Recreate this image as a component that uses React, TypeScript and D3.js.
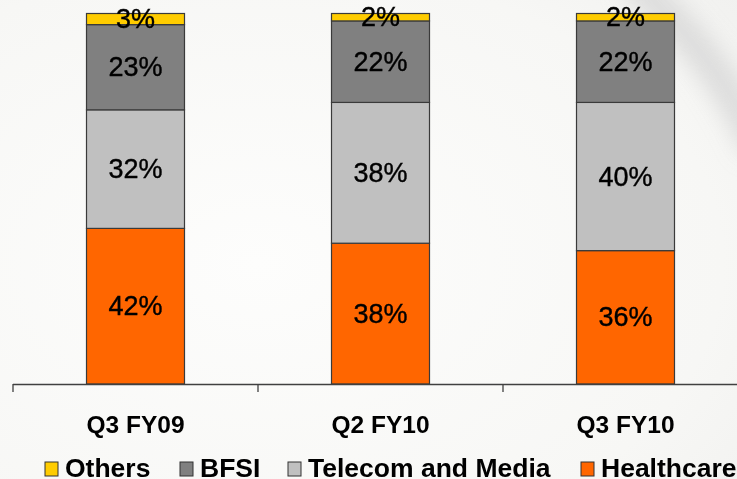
import React from "react";
import * as d3 from "d3";

const categories = ["Q3 FY09", "Q2 FY10", "Q3 FY10"];
const seriesNames = ["Healthcare", "Telecom and Media", "BFSI", "Others"];
const healthcare = [42, 38, 36];
const telecom = [32, 38, 40];
const bfsi = [23, 22, 22];
const others = [3, 2, 2];
const legendOrder = ["Others", "BFSI", "Telecom and Media", "Healthcare"];

const colors: Record<string, string> = {
  Healthcare: "#FF6600",
  "Telecom and Media": "#C0C0C0",
  BFSI: "#808080",
  Others: "#FFCC00",
};

const W = 737;
const H = 479;

export default function App() {
  const rows = categories.map((c, i) => ({
    category: c,
    Healthcare: healthcare[i],
    "Telecom and Media": telecom[i],
    BFSI: bfsi[i],
    Others: others[i],
  }));
  const stack = d3.stack<any>().keys(seriesNames);
  const layers = stack(rows);

  const x = d3
    .scaleBand<string>()
    .domain(categories)
    .range([13, 748])
    .paddingInner(0.6)
    .paddingOuter(0.3);
  const step = x.step();
  const y = d3.scaleLinear().domain([0, 100]).range([384, 13.5]);

  const tickXs = d3.range(categories.length + 1).map((i) => 13 + i * step);
  const legendX = [45, 180, 288, 581];

  return (
    <svg
      width={W}
      height={H}
      style={{ position: "fixed", left: 0, top: 0, display: "block" }}
      fontFamily="Arial, 'Liberation Sans', sans-serif"
    >
      <defs>
        <radialGradient id="bg" cx="0.35" cy="0.55" r="0.9">
          <stop offset="0" stopColor="#fdfdfc" />
          <stop offset="0.7" stopColor="#f7f7f5" />
          <stop offset="1" stopColor="#f0f0ee" />
        </radialGradient>
        <filter id="blur" x="-50%" y="-50%" width="200%" height="200%">
          <feGaussianBlur stdDeviation="12" />
        </filter>
      </defs>
      <rect width={W} height={H} fill="url(#bg)" />
      <path
        d="M 630 -20 Q 715 50 760 150"
        stroke="#d6d6d6"
        strokeWidth={30}
        fill="none"
        filter="url(#blur)"
        opacity={0.85}
      />

      {layers.map((layer) =>
        layer.map((d, i) => {
          const cat = categories[i];
          const x0 = x(cat)!;
          const yTop = y(d[1]);
          const yBot = y(d[0]);
          return (
            <rect
              key={layer.key + cat}
              x={x0}
              y={yTop}
              width={x.bandwidth()}
              height={yBot - yTop}
              fill={colors[layer.key]}
              stroke="#3a3a3a"
              strokeWidth={1.2}
            />
          );
        })
      )}
      {layers.map((layer) =>
        layer.map((d, i) => {
          const cat = categories[i];
          const cx = x(cat)! + x.bandwidth() / 2;
          const cy = (y(d[1]) + y(d[0])) / 2;
          const v = d[1] - d[0];
          return (
            <text
              key={"t" + layer.key + cat}
              x={cx}
              y={cy}
              textAnchor="middle"
              dominantBaseline="central"
              fontSize={27}
              fill="#000"
              stroke="#000"
              strokeWidth={0.4}
            >
              {v + "%"}
            </text>
          );
        })
      )}

      <line x1={13} x2={W} y1={384.5} y2={384.5} stroke="#404040" strokeWidth={1.3} />
      {tickXs.map((tx, i) => (
        <line key={"tk" + i} x1={tx} x2={tx} y1={384} y2={392} stroke="#404040" strokeWidth={1.3} />
      ))}

      {categories.map((c) => (
        <text
          key={"c" + c}
          x={x(c)! + x.bandwidth() / 2}
          y={433}
          textAnchor="middle"
          fontSize={24.5}
          fontWeight="bold"
          fill="#000"
        >
          {c}
        </text>
      ))}

      {legendOrder.map((name, i) => (
        <g key={"l" + name} transform={`translate(${legendX[i]},0)`}>
          <rect x={0} y={462} width={13} height={14} fill={colors[name]} stroke="#333" strokeWidth={1} />
          <text x={20} y={477} fontSize={26.5} fontWeight="bold" fill="#000">
            {name}
          </text>
        </g>
      ))}
    </svg>
  );
}
